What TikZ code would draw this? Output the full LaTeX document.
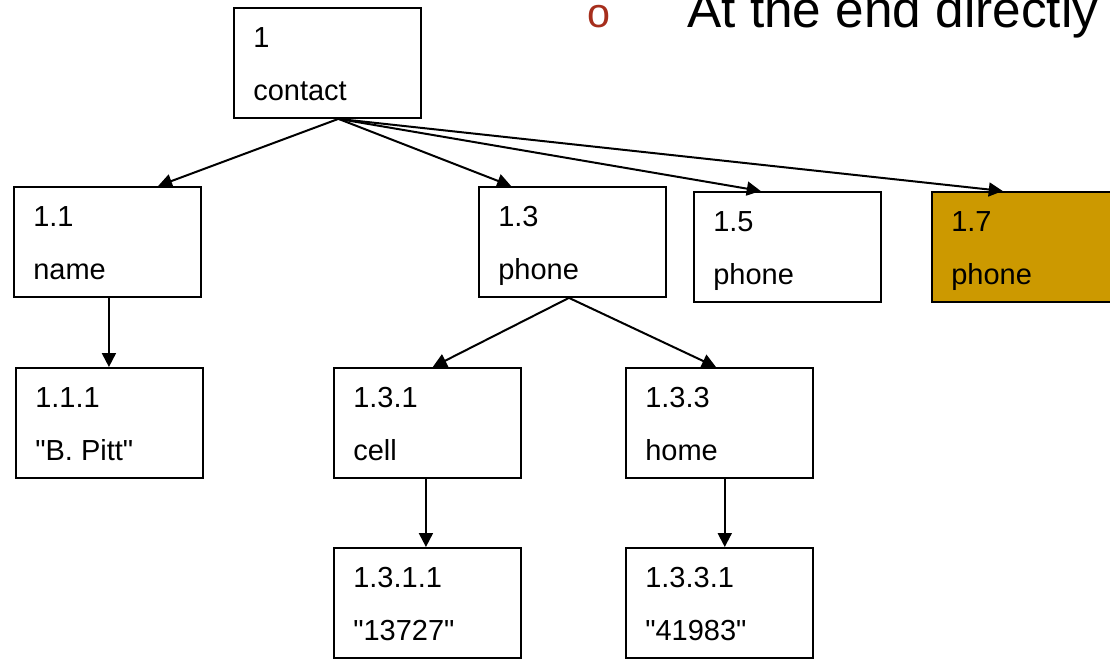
\documentclass[tikz,border=0pt]{standalone}
\usepackage{fontspec}
\setmainfont{Liberation Sans}
\usetikzlibrary{arrows.meta}

\definecolor{gold}{RGB}{204,153,0}
\definecolor{bulletred}{RGB}{166,46,28}

\tikzset{
  treebox/.style={draw=black, line width=1.4pt, rectangle, minimum width=140.25pt,
    minimum height=82.5pt, inner sep=0pt, anchor=north west},
  boxtext/.style={anchor=base west, inner sep=0pt, font=\fontsize{21.75}{26}\selectfont},
  link/.style={line width=1.5pt, -{Triangle[length=10.5pt,width=10.5pt]}},
  headtext/.style={anchor=base west, inner sep=0pt, font=\fontsize{38.5}{44}\selectfont},
}

% #1 extra style, #2 name, #3 left, #4 top, #5 first line, #6 second line
\newcommand\treenode[6][]{%
  \node[treebox,#1] (#2) at (#3,#4) {};
  \node[boxtext] (#2-top) at (#3+20,#4+40) {#5};
  \node[boxtext] (#2-bot) at (#3+20,#4+93) {#6};
}

\begin{document}
\begin{tikzpicture}[x={(0.75pt,0)}, y={(0,-0.75pt)}]
  \useasboundingbox (0,0) rectangle (1110,658);
  \clip (0,0) rectangle (1110,658);

  % heading line with its bullet
  \node[headtext, font=\fontsize{31}{36}\selectfont, text=bulletred] (bullet) at (587,27) {o};
  \node[headtext] (heading) at (687,27) {At the end directly};

  % tree nodes
  \treenode{n1}{233}{7}{1}{contact}
  \treenode{n11}{13}{186}{1.1}{name}
  \treenode{n13}{478}{186}{1.3}{phone}
  \treenode{n15}{693}{191}{1.5}{phone}
  \treenode[fill=gold]{n17}{931}{191}{1.7}{phone}
  \treenode{n111}{15}{367}{1.1.1}{\textquotedbl B. Pitt\textquotedbl}
  \treenode{n131}{333}{367}{1.3.1}{cell}
  \treenode{n133}{625}{367}{1.3.3}{home}
  \treenode{n1311}{333}{547}{1.3.1.1}{\textquotedbl 13727\textquotedbl}
  \treenode{n1331}{625}{547}{1.3.3.1}{\textquotedbl 41983\textquotedbl}

  % connectors from contact
  \draw[link] ([xshift=8.25pt]n1.south) -- ([xshift=38pt]n11.north);
  \draw[link] ([xshift=8.25pt]n1.south) -- ([xshift=-46pt]n13.north);
  \draw[link] ([xshift=8.25pt]n1.south) -- ([xshift=-20pt]n15.north);
  \draw[link] ([xshift=8.25pt]n1.south) -- ([xshift=-17pt]n17.north);

  % connectors below
  \draw[link] ([xshift=1.125pt]n11.south) -- ([xshift=-0.375pt]n111.north);
  \draw[link] ([xshift=-2.6pt]n13.south) -- ([xshift=4pt]n131.north);
  \draw[link] ([xshift=-2.6pt]n13.south) -- ([xshift=-2.6pt]n133.north);
  \draw[link] ([xshift=-1.125pt]n131.south) -- ([xshift=-1.125pt]n1311.north);
  \draw[link] ([xshift=4pt]n133.south) -- ([xshift=4pt]n1331.north);
\end{tikzpicture}
\end{document}
